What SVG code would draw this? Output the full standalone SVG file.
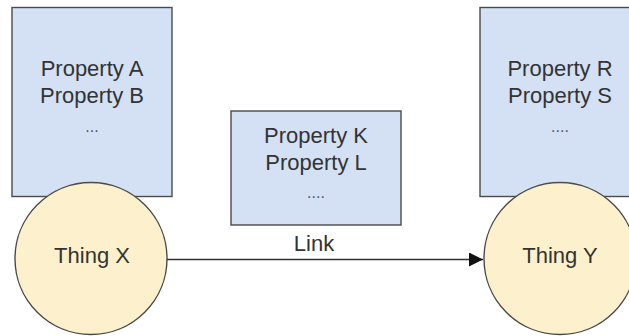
<svg xmlns="http://www.w3.org/2000/svg" width="629" height="336" viewBox="0 0 629 336">
  <style>
    .box { fill: #d4e1f5; stroke: #4a4a4a; stroke-width: 1.4; }
    .thing { fill: #fdf1cd; stroke: #4a4a4a; stroke-width: 1.4; }
    .lbl { font-family: "Liberation Sans", Arial, sans-serif; font-size: 22px; fill: #333333; text-anchor: middle; }
    .dots { font-family: "Liberation Sans", Arial, sans-serif; font-size: 16px; fill: #555555; text-anchor: middle; }
    .edge { stroke: #333333; stroke-width: 1.5; fill: none; }
  </style>
  <defs>
    <marker id="arrow" markerUnits="userSpaceOnUse" markerWidth="16" markerHeight="14" refX="14" refY="7" orient="auto">
      <path d="M0,0 L14,7 L0,14 Z" fill="#111111"/>
    </marker>
  </defs>
  <rect width="629" height="336" fill="#ffffff"/>

  <!-- property boxes -->
  <g id="props-x">
    <rect class="box" x="12" y="7.5" width="160" height="189"/>
    <text class="lbl" x="92" y="75.5">Property A</text>
    <text class="lbl" x="92" y="102.5">Property B</text>
    <text class="dots" x="92" y="132">...</text>
  </g>
  <g id="props-link">
    <rect class="box" x="231" y="111" width="170" height="114"/>
    <text class="lbl" x="316" y="143">Property K</text>
    <text class="lbl" x="316" y="170">Property L</text>
    <text class="dots" x="316" y="198">....</text>
  </g>
  <g id="props-y">
    <rect class="box" x="480" y="7.5" width="160" height="189"/>
    <text class="lbl" x="560" y="75.5">Property R</text>
    <text class="lbl" x="560" y="102.5">Property S</text>
    <text class="dots" x="560" y="132">....</text>
  </g>

  <!-- things -->
  <g id="thing-x">
    <circle class="thing" cx="91" cy="258.5" r="76"/>
    <text class="lbl" x="92" y="263">Thing X</text>
  </g>
  <g id="thing-y">
    <circle class="thing" cx="560" cy="258.5" r="76"/>
    <text class="lbl" x="560" y="263">Thing Y</text>
  </g>

  <!-- connectors -->
  <g id="connectors">
    <line class="edge" x1="167" y1="259.5" x2="483" y2="259.5" marker-end="url(#arrow)"/>
    <text class="lbl" x="314" y="250.5">Link</text>
  </g>
</svg>
